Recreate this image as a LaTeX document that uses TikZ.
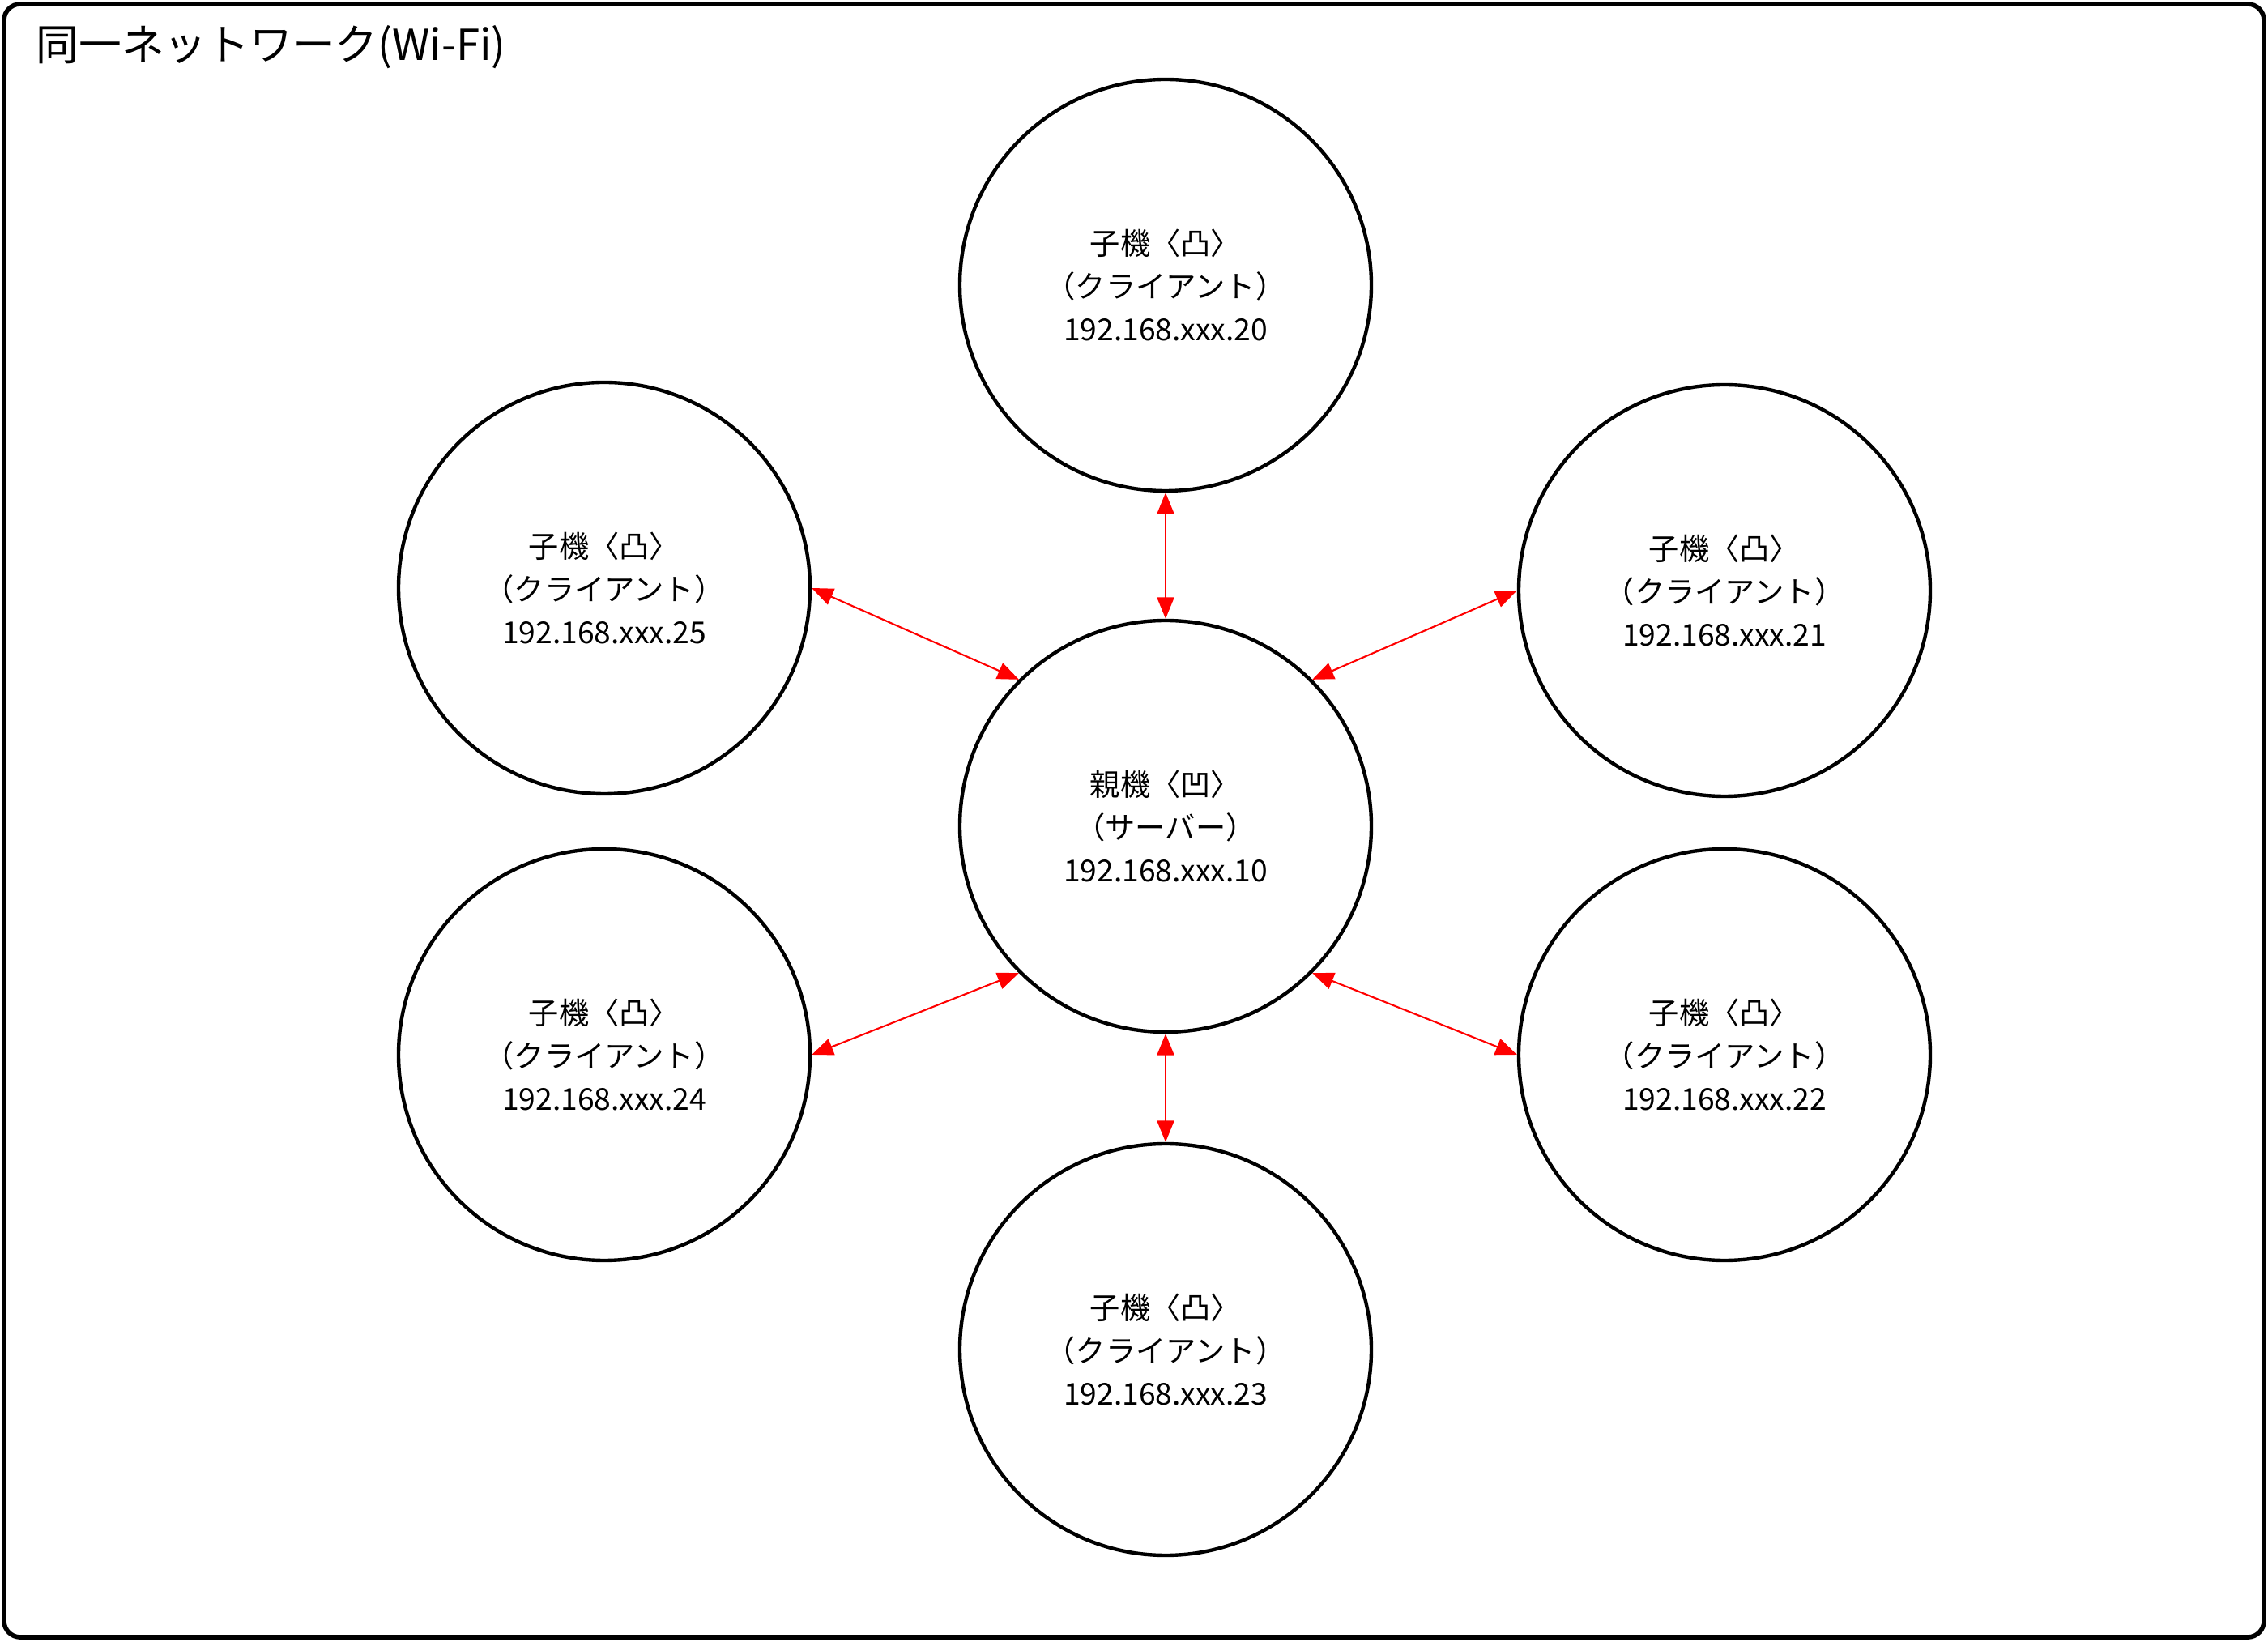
\documentclass[tikz,border=0pt]{standalone}
\usepackage{fontspec}
\setmainfont{Noto Sans CJK JP}
\usetikzlibrary{arrows.meta, positioning}

\tikzset{
  pc/.style={circle, draw=black, line width=1.25pt, minimum size=5.08cm, inner sep=0pt,
    align=center, font=\fontsize{10.6}{15.2}\selectfont},
  link/.style={red, line width=0.6pt,
    {Triangle[length=7.5pt,width=6pt]}-{Triangle[length=7.5pt,width=6pt]}},
}

\begin{document}
\begin{tikzpicture}
    \useasboundingbox (0,0) rectangle (28,20.26);
    \draw[line width=1.6pt, rounded corners=0.2cm] (0.05,0.05) rectangle (27.95,20.21);
    \node[anchor=west, inner sep=0pt, font=\fontsize{15}{17}\selectfont] (title) at (0.44,19.68) {同一ネットワーク(Wi-Fi)};
    % server in the middle
    \node[pc] (server) at (14.39,10.06) {親機〈凹〉\\（サーバー）\\192.168.xxx.10};
    % clients around it
    \foreach \name/\x/\y/\num in {c20/14.39/16.74/20, c21/21.29/12.97/21, c22/21.29/7.24/22,
                                  c23/14.39/3.60/23, c24/7.46/7.24/24, c25/7.46/13.00/25} {
        \node[pc] (\name) at (\x,\y) {子機〈凸〉\\（クライアント）\\192.168.xxx.\num};
    }
    \draw[link] (c20.south) -- (server.north);
    \draw[link] (server.north east) -- (c21.west);
    \draw[link] (server.south east) -- (c22.west);
    \draw[link] (server.south) -- (c23.north);
    \draw[link] (server.south west) -- (c24.east);
    \draw[link] (server.north west) -- (c25.east);
\end{tikzpicture}
\end{document}
